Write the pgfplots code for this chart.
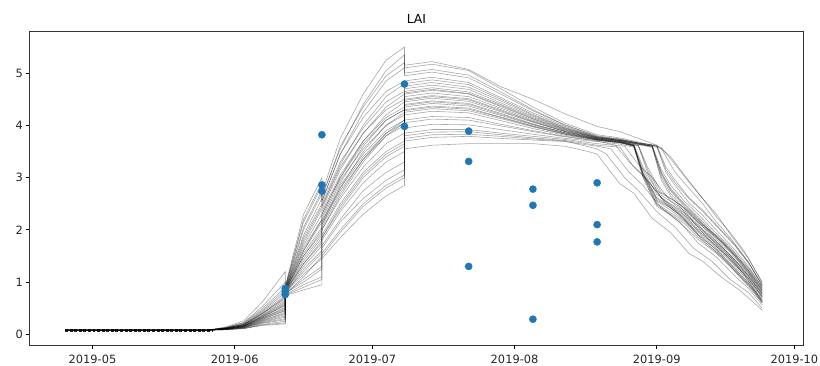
\documentclass[border=0pt]{standalone}
\usepackage{fontspec}
\setmainfont{DejaVu Sans}
\usepackage{pgfplots}
\pgfplotsset{compat=1.18}
\definecolor{mplblue}{RGB}{31,119,180}
\pgfplotsset{ensline/.style={black, opacity=0.34, line width=0.6bp, mark=none}}
\newcommand{\ens}[1]{\addplot[ensline] coordinates {#1};}
\begin{document}
\begin{tikzpicture}
\begin{axis}[
  scale only axis, width=777bp, height=315bp,
  xmin=107.33, xmax=275.9, ymin=-0.21, ymax=5.79,
  xtick={121,152,182,213,244,274},
  xticklabels={2019-05,2019-06,2019-07,2019-08,2019-09,2019-10},
  ytick={0,1,2,3,4,5},
  xtick pos=bottom, ytick pos=left,
  tick align=outside, major tick length=3.6bp,
  tick style={black, line width=0.8bp},
  axis line style={black!80, line width=0.8bp},
  every tick label/.append style={font=\fontsize{11.5}{13}\selectfont, text=black!85},
  xticklabel style={yshift=-2.5bp},
  /pgf/number format/assume math mode=true,
  title={LAI}, title style={font=\fontsize{12.5}{14}\selectfont, yshift=-1.5bp},
]
\addplot[black, opacity=0.85, line width=3bp, dash pattern=on 3bp off 1.6bp] coordinates {(115,0.08)(147,0.08)};
\ens{(115,0.08)(146,0.08)(150,0.09)(154,0.11)(158,0.17)(163,0.20)(163,0.74)(167,0.85)(171,0.95)(171,1.45)(175,1.85)(180,2.3)(185,2.65)(189,2.85)(189,3.55)(195,3.62)(203,3.65)(210,3.65)(217,3.65)(224,3.6)(229,3.5)(231,3.45)(234,3.1)(236,2.88)(239,2.7)(243,2.22)(247,1.95)(251,1.55)(254,1.4)(258,1.1)(262,0.85)(265,0.62)(267,0.46)}
\ens{(115,0.08)(146,0.08)(150,0.09)(154,0.12)(158,0.19)(163,0.25)(163,0.76)(167,0.95)(171,1.10)(171,1.55)(175,2.0)(180,2.5)(185,2.85)(189,3.05)(189,3.7)(195,3.77)(203,3.79)(210,3.75)(217,3.72)(224,3.69)(231,3.6)(234,3.55)(238,3.1)(241,2.85)(245,2.42)(249,2.15)(253,1.75)(257,1.48)(261,1.12)(264,0.88)(267,0.56)}
\ens{(115,0.08)(146,0.08)(150,0.10)(154,0.13)(158,0.22)(163,0.30)(163,0.78)(167,1.05)(171,1.3)(171,1.7)(175,2.2)(180,2.75)(185,3.1)(189,3.3)(189,3.85)(195,3.92)(203,3.92)(210,3.85)(217,3.79)(224,3.73)(231,3.65)(237,3.6)(240,3.25)(243,3.0)(247,2.55)(251,2.25)(255,1.85)(259,1.52)(263,1.15)(267,0.62)}
\ens{(115,0.08)(146,0.08)(150,0.10)(154,0.13)(158,0.24)(163,0.35)(163,0.80)(167,1.15)(171,1.45)(171,1.8)(175,2.35)(180,2.9)(185,3.3)(189,3.5)(189,3.95)(195,4.02)(203,4.01)(210,3.92)(217,3.83)(224,3.75)(231,3.69)(236,3.64)(239,3.58)(241,3.0)(244,2.45)(247,2.28)(250,2.06)(253,1.82)(257,1.55)(260,1.3)(264,0.92)(267,0.6)}
\ens{(115,0.08)(146,0.08)(150,0.10)(154,0.14)(158,0.26)(163,0.40)(163,0.79)(167,1.25)(171,1.6)(171,1.9)(175,2.5)(180,3.1)(185,3.5)(189,3.7)(189,4.1)(195,4.17)(203,4.15)(210,4.02)(217,3.9)(224,3.79)(231,3.71)(236,3.66)(239,3.6)(241,3.05)(244,2.5)(247,2.33)(250,2.16)(253,1.9)(257,1.62)(260,1.36)(264,0.98)(267,0.64)}
\ens{(115,0.08)(146,0.08)(150,0.10)(154,0.15)(158,0.28)(163,0.45)(163,0.81)(167,1.35)(171,1.75)(171,2.0)(175,2.6)(180,3.2)(185,3.65)(189,3.85)(189,4.2)(195,4.27)(203,4.24)(210,4.09)(217,3.94)(224,3.81)(231,3.72)(236,3.67)(239,3.61)(241,3.08)(244,2.57)(247,2.42)(250,2.22)(253,1.98)(257,1.68)(260,1.44)(264,1.05)(267,0.7)}
\ens{(115,0.08)(146,0.08)(150,0.11)(154,0.16)(158,0.31)(163,0.50)(163,0.82)(167,1.45)(171,1.9)(171,2.1)(175,2.75)(180,3.35)(185,3.8)(189,4.0)(189,4.3)(195,4.37)(203,4.33)(210,4.16)(217,3.99)(224,3.84)(231,3.73)(236,3.68)(240,3.6)(242,3.1)(245,2.6)(248,2.42)(251,2.22)(254,1.98)(258,1.68)(261,1.42)(264,1.12)(267,0.76)}
\ens{(115,0.08)(146,0.08)(150,0.11)(154,0.16)(158,0.33)(163,0.55)(163,0.83)(167,1.5)(171,2.0)(171,2.15)(175,2.85)(180,3.45)(185,3.9)(189,4.1)(189,4.35)(195,4.42)(203,4.37)(210,4.19)(217,4.01)(224,3.85)(231,3.73)(236,3.68)(239,3.62)(241,3.15)(244,2.68)(247,2.5)(250,2.32)(253,2.08)(257,1.78)(260,1.52)(264,1.15)(267,0.78)}
\ens{(115,0.08)(146,0.08)(150,0.11)(154,0.17)(158,0.35)(163,0.60)(163,0.84)(167,1.6)(171,2.15)(171,2.25)(175,2.95)(180,3.55)(185,4.0)(189,4.2)(189,4.4)(195,4.47)(203,4.42)(210,4.23)(217,4.03)(224,3.86)(231,3.74)(236,3.69)(239,3.62)(241,3.05)(244,2.55)(247,2.38)(250,2.18)(253,1.95)(257,1.65)(260,1.4)(264,1.02)(267,0.67)}
\ens{(115,0.08)(146,0.08)(150,0.11)(154,0.18)(158,0.37)(163,0.65)(163,0.85)(167,1.7)(171,2.3)(171,2.35)(175,3.05)(180,3.7)(185,4.15)(189,4.35)(189,4.5)(195,4.57)(203,4.51)(210,4.3)(217,4.08)(224,3.89)(231,3.75)(236,3.7)(240,3.63)(243,3.58)(245,3.0)(247,2.7)(250,2.4)(253,2.15)(257,1.78)(260,1.52)(264,1.12)(267,0.78)}
\ens{(115,0.08)(146,0.08)(150,0.12)(154,0.19)(158,0.40)(163,0.70)(163,0.86)(167,1.8)(171,2.45)(171,2.45)(175,3.2)(180,3.85)(185,4.3)(189,4.5)(189,4.6)(195,4.67)(203,4.6)(210,4.36)(217,4.12)(224,3.91)(231,3.76)(236,3.71)(240,3.64)(243,3.6)(245,3.1)(247,2.8)(250,2.5)(253,2.25)(257,1.88)(260,1.62)(264,1.22)(267,0.86)}
\ens{(115,0.08)(146,0.08)(150,0.12)(154,0.19)(158,0.42)(163,0.75)(163,0.87)(167,1.9)(171,2.6)(171,2.5)(175,3.3)(180,3.95)(185,4.45)(189,4.65)(189,4.7)(195,4.77)(203,4.69)(210,4.43)(217,4.17)(224,3.94)(231,3.77)(236,3.72)(240,3.65)(244,3.6)(246,3.1)(248,2.85)(251,2.52)(254,2.28)(258,1.9)(261,1.62)(264,1.3)(267,0.9)}
\ens{(115,0.08)(146,0.08)(150,0.12)(154,0.20)(158,0.44)(163,0.80)(163,0.88)(167,2.0)(171,2.7)(171,2.55)(175,3.45)(180,4.15)(185,4.65)(189,4.85)(189,4.8)(195,4.87)(203,4.78)(210,4.5)(217,4.21)(224,3.96)(231,3.78)(236,3.72)(240,3.66)(244,3.61)(246,3.15)(248,2.9)(251,2.6)(254,2.35)(258,1.98)(261,1.7)(264,1.36)(267,0.94)}
\ens{(115,0.08)(146,0.08)(150,0.13)(154,0.22)(158,0.49)(163,0.90)(163,0.9)(167,2.15)(171,2.85)(171,2.6)(175,3.6)(180,4.35)(185,4.95)(189,5.2)(189,4.95)(195,5.02)(203,4.91)(210,4.6)(217,4.28)(224,4.0)(231,3.79)(236,3.73)(240,3.66)(245,3.56)(248,3.1)(251,2.8)(254,2.5)(257,2.15)(260,1.85)(264,1.38)(267,0.95)}
\ens{(115,0.08)(146,0.08)(150,0.14)(154,0.26)(158,0.62)(163,1.20)(163,0.92)(167,2.3)(171,3.0)(171,2.7)(175,3.75)(180,4.6)(185,5.25)(189,5.5)(189,5.15)(195,5.22)(203,5.07)(210,4.74)(217,4.5)(224,4.22)(231,3.98)(236,3.88)(240,3.75)(244,3.62)(247,3.4)(250,3.05)(254,2.6)(257,2.25)(260,1.95)(263,1.6)(265,1.3)(267,1.0)}
\ens{(115,0.08)(146,0.08)(150,0.09)(154,0.12)(158,0.21)(163,0.28)(163,0.77)(167,1.1)(171,1.5)(171,1.85)(175,2.45)(180,3.05)(185,3.45)(189,3.65)(189,4.05)(195,4.12)(203,4.1)(210,3.99)(217,3.88)(224,3.78)(231,3.7)(235,3.62)(238,3.3)(241,3.05)(245,2.62)(249,2.3)(253,1.92)(257,1.62)(261,1.25)(264,0.98)(267,0.66)}
\ens{(115,0.08)(146,0.08)(150,0.10)(154,0.13)(158,0.23)(163,0.33)(163,0.79)(167,1.0)(171,1.25)(171,1.65)(175,2.15)(180,2.6)(185,2.95)(189,3.15)(189,3.8)(195,3.87)(203,3.88)(210,3.82)(217,3.76)(224,3.71)(231,3.62)(236,3.58)(239,3.2)(242,2.95)(246,2.5)(250,2.2)(254,1.8)(258,1.5)(262,1.12)(265,0.85)(267,0.6)}
\ens{(115,0.08)(146,0.08)(150,0.10)(154,0.14)(158,0.25)(163,0.38)(163,0.8)(167,1.3)(171,1.7)(171,2.0)(175,2.65)(180,3.3)(185,3.8)(189,4.05)(189,4.45)(195,4.52)(203,4.46)(210,4.26)(217,4.06)(224,3.88)(231,3.74)(236,3.69)(240,3.62)(242,3.2)(245,2.72)(248,2.55)(251,2.35)(254,2.1)(258,1.82)(261,1.55)(264,1.22)(267,0.84)}
\ens{(115,0.08)(146,0.08)(150,0.10)(154,0.14)(158,0.27)(163,0.42)(163,0.81)(167,1.2)(171,1.55)(171,1.85)(175,2.4)(180,3.0)(185,3.4)(189,3.6)(189,4.25)(195,4.32)(203,4.28)(210,4.13)(217,3.97)(224,3.83)(231,3.72)(236,3.67)(239,3.6)(241,3.02)(244,2.48)(247,2.3)(250,2.12)(253,1.86)(257,1.58)(260,1.32)(264,0.95)(267,0.62)}
\ens{(115,0.08)(146,0.08)(150,0.10)(154,0.15)(158,0.30)(163,0.48)(163,0.82)(167,1.4)(171,1.85)(171,2.1)(175,2.8)(180,3.5)(185,4.0)(189,4.25)(189,4.65)(195,4.72)(203,4.64)(210,4.4)(217,4.15)(224,3.93)(231,3.76)(236,3.71)(240,3.64)(243,3.59)(245,2.95)(247,2.65)(250,2.35)(253,2.1)(257,1.72)(260,1.48)(264,1.07)(267,0.72)}
\ens{(115,0.08)(146,0.08)(150,0.11)(154,0.16)(158,0.31)(163,0.52)(163,0.83)(167,1.55)(171,2.05)(171,2.2)(175,2.9)(180,3.6)(185,4.1)(189,4.3)(189,4.55)(195,4.62)(203,4.55)(210,4.33)(217,4.1)(224,3.9)(231,3.75)(236,3.7)(239,3.63)(241,3.2)(244,2.75)(247,2.6)(250,2.42)(253,2.16)(257,1.88)(260,1.62)(264,1.25)(267,0.88)}
\ens{(115,0.08)(146,0.08)(150,0.11)(154,0.17)(158,0.34)(163,0.58)(163,0.84)(167,1.5)(171,1.95)(171,2.15)(175,2.8)(180,3.4)(185,3.85)(189,4.05)(189,4.28)(195,4.35)(203,4.31)(210,4.15)(217,3.98)(224,3.83)(231,3.72)(236,3.67)(239,3.61)(241,3.1)(244,2.62)(247,2.45)(250,2.28)(253,2.02)(257,1.74)(260,1.48)(264,1.1)(267,0.74)}
\ens{(115,0.08)(146,0.08)(150,0.11)(154,0.17)(158,0.36)(163,0.62)(163,0.85)(167,1.75)(171,2.4)(171,2.4)(175,3.15)(180,3.85)(185,4.35)(189,4.6)(189,4.75)(195,4.82)(203,4.73)(210,4.47)(217,4.19)(224,3.95)(231,3.77)(236,3.71)(240,3.65)(243,3.6)(245,3.05)(247,2.75)(250,2.45)(253,2.2)(257,1.82)(260,1.57)(264,1.17)(267,0.82)}
\ens{(115,0.08)(146,0.08)(150,0.11)(154,0.18)(158,0.39)(163,0.68)(163,0.86)(167,1.65)(171,2.2)(171,2.3)(175,3.0)(180,3.65)(185,4.1)(189,4.3)(189,4.48)(195,4.55)(203,4.49)(210,4.28)(217,4.07)(224,3.88)(231,3.74)(236,3.69)(240,3.61)(242,3.15)(245,2.66)(248,2.5)(251,2.3)(254,2.06)(258,1.78)(261,1.5)(264,1.18)(267,0.8)}
\ens{(115,0.08)(146,0.08)(150,0.12)(154,0.19)(158,0.40)(163,0.72)(163,0.87)(167,1.85)(171,2.5)(171,2.45)(175,3.25)(180,4.0)(185,4.55)(189,4.8)(189,4.85)(195,4.92)(203,4.82)(210,4.53)(217,4.24)(224,3.98)(231,3.78)(236,3.73)(240,3.66)(244,3.62)(246,3.2)(248,2.95)(251,2.62)(254,2.38)(258,2.0)(261,1.72)(264,1.38)(267,0.92)}
\ens{(115,0.08)(146,0.08)(150,0.12)(154,0.21)(158,0.46)(163,0.85)(163,0.89)(167,2.05)(171,2.75)(171,2.55)(175,3.45)(180,4.25)(185,4.85)(189,5.1)(189,5.0)(195,5.07)(203,4.96)(210,4.64)(217,4.3)(224,4.01)(231,3.8)(236,3.74)(240,3.67)(243,3.62)(245,3.15)(247,2.86)(250,2.55)(253,2.3)(257,1.93)(260,1.67)(264,1.27)(267,0.9)}
\ens{(115,0.08)(146,0.08)(150,0.13)(154,0.23)(158,0.53)(163,1.0)(163,0.9)(167,2.2)(171,2.9)(171,2.65)(175,3.55)(180,4.4)(185,5.05)(189,5.35)(189,5.1)(195,5.17)(203,5.05)(210,4.7)(217,4.35)(224,4.04)(231,3.82)(236,3.76)(240,3.68)(245,3.58)(248,3.25)(251,2.92)(254,2.6)(257,2.3)(260,1.92)(264,1.45)(267,0.98)}
\ens{(115,0.08)(146,0.08)(150,0.09)(154,0.11)(158,0.18)(163,0.22)(163,0.75)(167,0.9)(171,1.05)(171,1.5)(175,1.95)(180,2.45)(185,2.8)(189,3.0)(189,3.75)(195,3.82)(203,3.83)(210,3.79)(217,3.74)(224,3.7)(231,3.55)(233,3.45)(237,3.0)(240,2.75)(244,2.35)(248,2.05)(252,1.65)(256,1.4)(260,1.05)(264,0.8)(267,0.5)}
\ens{(115,0.08)(146,0.08)(150,0.10)(154,0.15)(158,0.29)(163,0.46)(163,0.82)(167,1.35)(171,1.8)(171,2.05)(175,2.7)(180,3.35)(185,3.85)(189,4.1)(189,4.38)(195,4.45)(203,4.4)(210,4.21)(217,4.02)(224,3.86)(231,3.73)(236,3.68)(239,3.61)(241,3.08)(244,2.6)(247,2.42)(250,2.25)(253,1.99)(257,1.7)(260,1.45)(264,1.07)(267,0.72)}
\ens{(115,0.08)(146,0.08)(150,0.11)(154,0.16)(158,0.33)(163,0.56)(163,0.83)(167,1.6)(171,2.2)(171,2.3)(175,3.0)(180,3.7)(185,4.2)(189,4.45)(189,4.62)(195,4.69)(203,4.61)(210,4.38)(217,4.13)(224,3.92)(231,3.76)(236,3.71)(240,3.64)(243,3.6)(245,3.08)(247,2.77)(250,2.48)(253,2.22)(257,1.85)(260,1.6)(264,1.2)(267,0.84)}
\addplot[only marks, mark=*, mark size=3.6bp, color=mplblue] coordinates {
(163,0.88)(163,0.82)(163,0.76)
(171,3.82)(171,2.86)(171,2.74)
(189,4.79)(189,3.98)
(203,3.89)(203,3.31)(203,1.30)
(217,2.78)(217,2.47)(217,0.29)
(231,2.90)(231,2.10)(231,1.77)};
\end{axis}
\pgfresetboundingbox
\path ([shift={(-30bp,-20bp)}]current axis.south west) rectangle ([shift={(17bp,32bp)}]current axis.north east);
\end{tikzpicture}
\end{document}
